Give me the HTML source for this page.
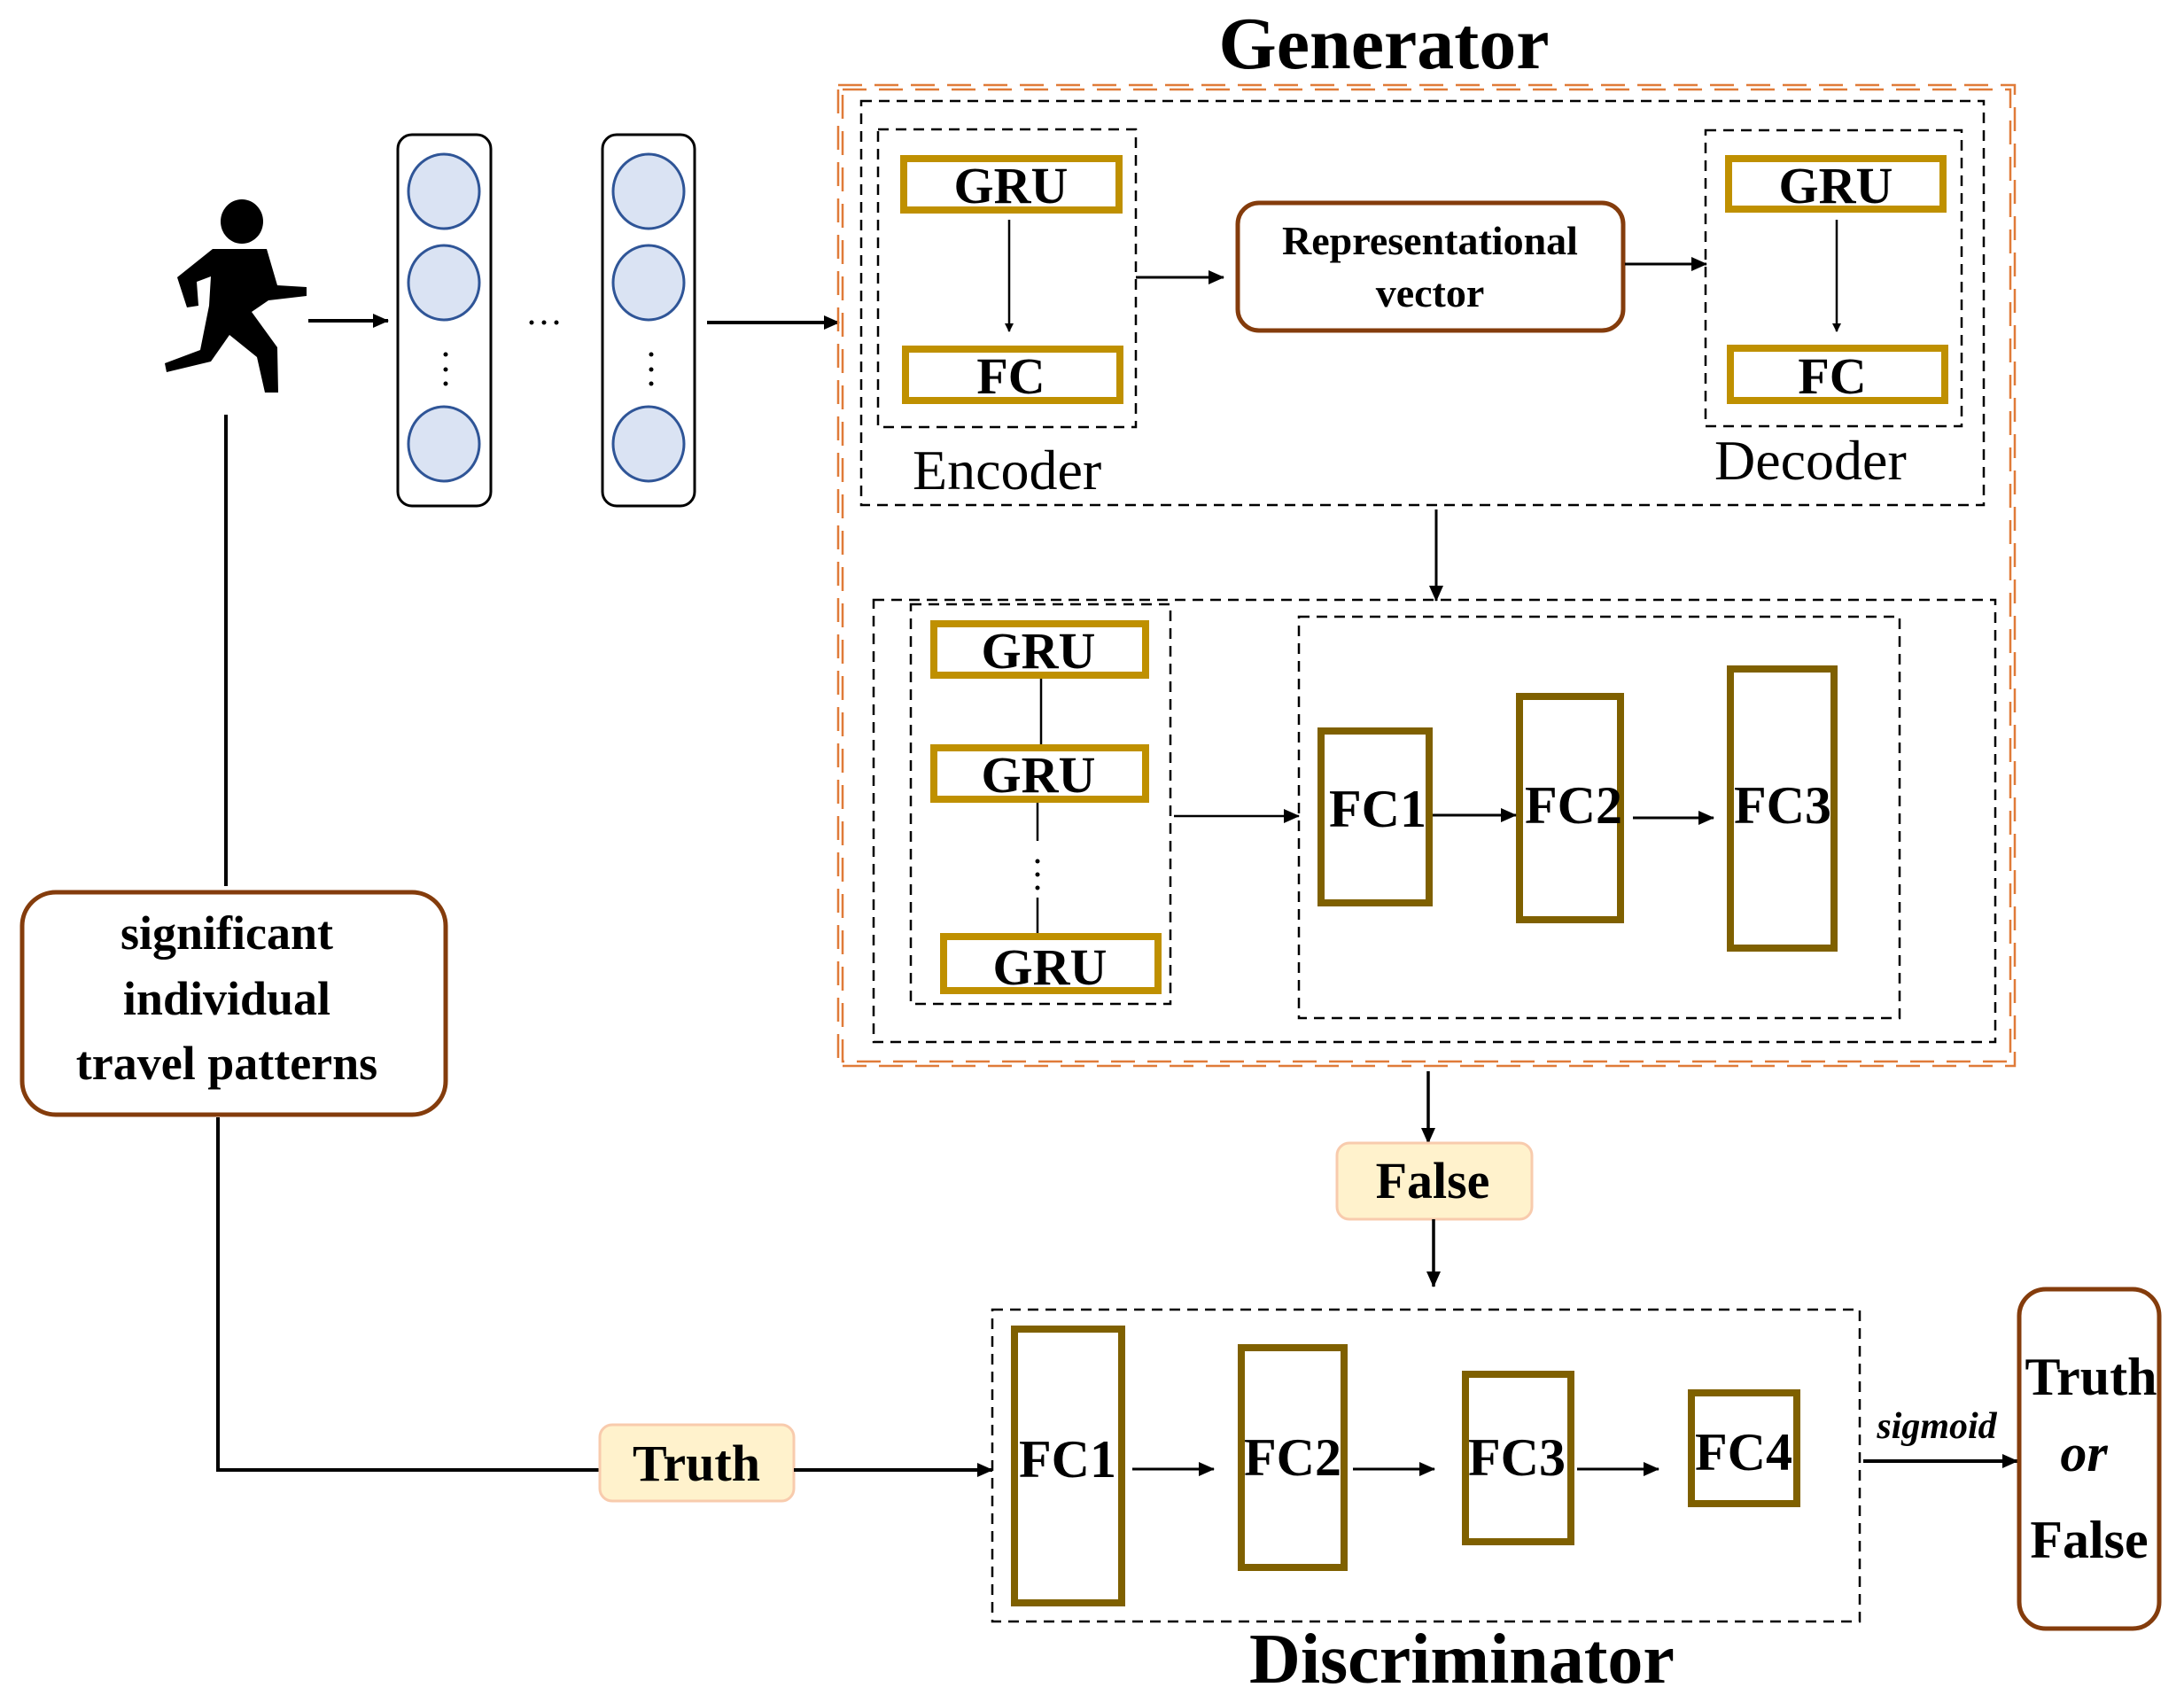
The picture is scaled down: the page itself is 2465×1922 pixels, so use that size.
<!DOCTYPE html>
<html><head><meta charset="utf-8"><style>html,body{margin:0;padding:0;background:#fff}svg{display:block}</style></head>
<body>
<svg width="2465" height="1922" viewBox="0 0 2465 1922" xmlns="http://www.w3.org/2000/svg" font-family="'Liberation Serif', serif">
<defs>
<marker id="a" markerWidth="10" markerHeight="10" refX="9" refY="5" orient="auto" markerUnits="userSpaceOnUse" viewBox="0 0 10 10">
<path d="M0,0 L10,5 L0,10 z" fill="#000"/></marker>
<marker id="b" markerWidth="18" markerHeight="16" refX="17" refY="8" orient="auto" markerUnits="userSpaceOnUse" viewBox="0 0 18 16">
<path d="M0,0 L18,8 L0,16 z" fill="#000"/></marker>
</defs>
<g stroke-linecap="butt">
<!-- title -->
<text x="1562" y="77" font-size="84" font-weight="bold" text-anchor="middle">Generator</text>
<text x="1650" y="1899" font-size="80" font-weight="bold" text-anchor="middle">Discriminator</text>

<!-- runner -->
<ellipse cx="273" cy="250" rx="24" ry="25" fill="#000"/>
<polygon fill="#000" points="240,281 301,281 313,322 346,324 346,334 303,339 284,352 313,392 314,443 299,443 290,403 259,378 238,408 188,420 186,410 226,395 236,345 238,312 222,318 224,345 211,347 200,313"/>
<line x1="348" y1="362" x2="438" y2="362" stroke="#000" stroke-width="4" marker-end="url(#b)"/>

<!-- columns -->
<rect x="449" y="152" width="105" height="419" rx="16" fill="#fff" stroke="#000" stroke-width="3"/>
<rect x="680" y="152" width="104" height="419" rx="16" fill="#fff" stroke="#000" stroke-width="3"/>
<g fill="#DAE3F3" stroke="#2F5597" stroke-width="3">
<ellipse cx="501" cy="216" rx="40" ry="42"/><ellipse cx="501" cy="319" rx="40" ry="42"/><ellipse cx="501" cy="501" rx="40" ry="42"/>
<ellipse cx="732" cy="216" rx="40" ry="42"/><ellipse cx="732" cy="319" rx="40" ry="42"/><ellipse cx="732" cy="501" rx="40" ry="42"/>
</g>
<g fill="#000"><circle cx="503" cy="400" r="2.5"/><circle cx="503" cy="417" r="2.5"/><circle cx="503" cy="433" r="2.5"/>
<circle cx="735" cy="400" r="2.5"/><circle cx="735" cy="417" r="2.5"/><circle cx="735" cy="433" r="2.5"/>
<circle cx="600" cy="364" r="2.5"/><circle cx="614" cy="364" r="2.5"/><circle cx="628" cy="364" r="2.5"/></g>
<line x1="798" y1="364" x2="947" y2="364" stroke="#000" stroke-width="4" marker-end="url(#b)"/>

<!-- orange double dashed -->
<g fill="none" stroke="#E07B39" stroke-width="2.5" stroke-dasharray="27,14">
<rect x="946" y="96" width="1328" height="1107"/>
<rect x="951" y="101" width="1318" height="1097"/>
</g>

<!-- black dashed boxes -->
<g fill="none" stroke="#000" stroke-width="2.5" stroke-dasharray="12,8">
<rect x="972" y="114" width="1267" height="456"/>
<rect x="991" y="146" width="291" height="336"/>
<rect x="1925" y="147" width="289" height="334"/>
<rect x="986" y="677" width="1266" height="499"/>
<rect x="1028" y="682" width="293" height="451"/>
<rect x="1466" y="696" width="678" height="453"/>
<rect x="1120" y="1478" width="979" height="352"/>
</g>

<!-- encoder -->
<g fill="none" stroke="#BF9000" stroke-width="8">
<rect x="1020" y="179" width="243" height="58"/>
<rect x="1022" y="394" width="242" height="58"/>
<rect x="1951" y="179" width="242" height="57"/>
<rect x="1953" y="393" width="242" height="59"/>
<rect x="1054" y="704" width="239" height="58"/>
<rect x="1054" y="844" width="239" height="58"/>
<rect x="1065" y="1057" width="242" height="61"/>
</g>
<g font-size="58" font-weight="bold" text-anchor="middle">
<text x="1141" y="229">GRU</text>
<text x="1141" y="444">FC</text>
<text x="2072" y="229">GRU</text>
<text x="2068" y="444">FC</text>
<text x="1172" y="754">GRU</text>
<text x="1172" y="894">GRU</text>
<text x="1185" y="1111">GRU</text>
</g>
<line x1="1139" y1="248" x2="1139" y2="374" stroke="#000" stroke-width="2.5" marker-end="url(#a)"/>
<line x1="2073" y1="248" x2="2073" y2="374" stroke="#000" stroke-width="2.5" marker-end="url(#a)"/>
<text x="1030" y="552" font-size="64">Encoder</text>
<text x="1935" y="541" font-size="64">Decoder</text>

<line x1="1282" y1="313" x2="1381" y2="313" stroke="#000" stroke-width="3" marker-end="url(#b)"/>
<rect x="1397" y="229" width="435" height="144" rx="24" fill="#fff" stroke="#843C0C" stroke-width="5"/>
<g font-size="46" font-weight="bold" text-anchor="middle">
<text x="1614" y="287">Representational</text>
<text x="1614" y="346">vector</text>
</g>
<line x1="1834" y1="298" x2="1926" y2="298" stroke="#000" stroke-width="3" marker-end="url(#b)"/>
<line x1="1621" y1="575" x2="1621" y2="678" stroke="#000" stroke-width="3" marker-end="url(#b)"/>

<!-- lower generator -->
<line x1="1175" y1="766" x2="1175" y2="840" stroke="#000" stroke-width="2.5"/>
<line x1="1171" y1="906" x2="1171" y2="949" stroke="#000" stroke-width="2.5"/>
<g fill="#000"><circle cx="1171" cy="972" r="2.5"/><circle cx="1171" cy="987" r="2.5"/><circle cx="1171" cy="1002" r="2.5"/></g>
<line x1="1171" y1="1013" x2="1171" y2="1053" stroke="#000" stroke-width="2.5"/>
<line x1="1325" y1="921" x2="1466" y2="921" stroke="#000" stroke-width="2.5" marker-end="url(#b)"/>
<g fill="none" stroke="#7F6000" stroke-width="8">
<rect x="1491" y="825" width="122" height="194"/>
<rect x="1715" y="786" width="114" height="252"/>
<rect x="1953" y="755" width="117" height="315"/>
</g>
<g font-size="60" font-weight="bold" text-anchor="middle">
<text x="1555" y="933">FC1</text>
<text x="1776" y="929">FC2</text>
<text x="2012" y="929">FC3</text>
</g>
<line x1="1617" y1="920" x2="1711" y2="920" stroke="#000" stroke-width="3" marker-end="url(#b)"/>
<line x1="1843" y1="923" x2="1934" y2="923" stroke="#000" stroke-width="3" marker-end="url(#b)"/>

<!-- False -->
<line x1="1612" y1="1209" x2="1612" y2="1290" stroke="#000" stroke-width="3.5" marker-end="url(#b)"/>
<rect x="1509" y="1290" width="220" height="86" rx="14" fill="#FFF2CC" stroke="#F8CBAD" stroke-width="3"/>
<text x="1617" y="1352" font-size="58" font-weight="bold" text-anchor="middle">False</text>
<line x1="1618" y1="1376" x2="1618" y2="1452" stroke="#000" stroke-width="3.5" marker-end="url(#b)"/>

<!-- left significant box -->
<line x1="255" y1="468" x2="255" y2="1000" stroke="#000" stroke-width="4"/>
<rect x="25" y="1007" width="478" height="251" rx="38" fill="#fff" stroke="#843C0C" stroke-width="5"/>
<g font-size="54" font-weight="bold" text-anchor="middle">
<text x="256" y="1071">significant</text>
<text x="256" y="1145">individual</text>
<text x="256" y="1218">travel patterns</text>
</g>
<polyline points="246,1261 246,1659 677,1659" fill="none" stroke="#000" stroke-width="4"/>
<rect x="677" y="1608" width="219" height="86" rx="14" fill="#FFF2CC" stroke="#F8CBAD" stroke-width="3"/>
<text x="786" y="1671" font-size="58" font-weight="bold" text-anchor="middle">Truth</text>
<line x1="896" y1="1659" x2="1120" y2="1659" stroke="#000" stroke-width="4" marker-end="url(#b)"/>

<!-- discriminator -->
<g fill="none" stroke="#7F6000" stroke-width="8">
<rect x="1145" y="1500" width="121" height="309"/>
<rect x="1401" y="1521" width="116" height="248"/>
<rect x="1654" y="1551" width="119" height="189"/>
<rect x="1909" y="1572" width="119" height="125"/>
</g>
<g font-size="60" font-weight="bold" text-anchor="middle">
<text x="1205" y="1667">FC1</text>
<text x="1459" y="1665">FC2</text>
<text x="1712" y="1665">FC3</text>
<text x="1968" y="1659">FC4</text>
</g>
<line x1="1278" y1="1658" x2="1370" y2="1658" stroke="#000" stroke-width="3" marker-end="url(#b)"/>
<line x1="1527" y1="1658" x2="1619" y2="1658" stroke="#000" stroke-width="3" marker-end="url(#b)"/>
<line x1="1780" y1="1658" x2="1872" y2="1658" stroke="#000" stroke-width="3" marker-end="url(#b)"/>
<text x="2186" y="1623" font-size="42" font-weight="bold" font-style="italic" text-anchor="middle">sigmoid</text>
<line x1="2103" y1="1649" x2="2277" y2="1649" stroke="#000" stroke-width="4" marker-end="url(#b)"/>
<rect x="2279" y="1455" width="158" height="383" rx="30" fill="#fff" stroke="#843C0C" stroke-width="5"/>
<g font-size="60" font-weight="bold" text-anchor="middle">
<text x="2360" y="1574">Truth</text>
<text x="2352" y="1660" font-style="italic">or</text>
<text x="2358" y="1758">False</text>
</g>
</g>
</svg>
</body></html>
